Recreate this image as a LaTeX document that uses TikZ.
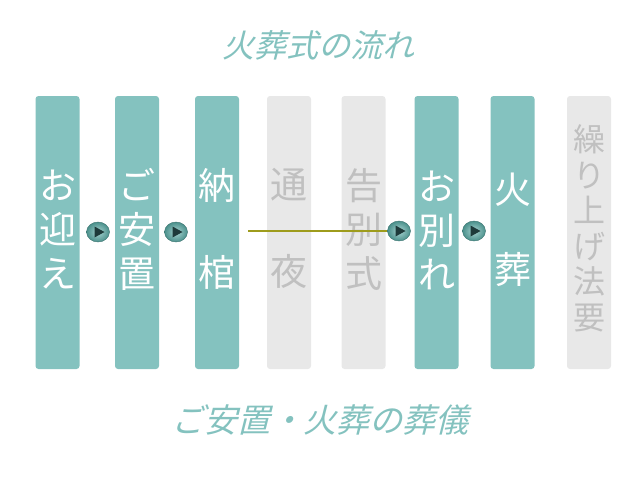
\documentclass[tikz,border=0pt]{standalone}
\usepackage{fontspec}
\setmainfont{Noto Sans CJK JP}
\newfontfamily\titlefont[FakeSlant=0.25]{Noto Sans CJK JP}
\usepackage{tikz}
\usetikzlibrary{shapes.geometric}
\usetikzlibrary{positioning}
\definecolor{barteal}{HTML}{84C2BF}
\definecolor{bargray}{HTML}{E8E8E8}
\definecolor{txtgray}{HTML}{C0C0C0}
\definecolor{btnteal}{HTML}{4A908B}
\definecolor{btndark}{HTML}{1E3A3A}
\definecolor{lineolive}{HTML}{9E9C1C}
\tikzset{
  barnode/.style = {rectangle, inner sep=0pt,
    minimum width=44pt, minimum height=273pt, rounded corners=3pt},
  bar_on/.style = {barnode, fill=barteal},% step held
  bar_off/.style = {barnode, fill=bargray},% step left out
  bartext/.style = {align=center, inner sep=0pt, yshift=3pt,
    font=\fontsize{37}{44}\selectfont},
  btn/.style = {ellipse, inner sep=0pt, minimum width=23pt, minimum height=20pt,
    inner color=barteal!70!white, outer color=btnteal, draw=btnteal!80!black, line width=0.4pt,
    path picture={\fill[btndark] ([xshift=-3.5pt,yshift=5.5pt]path picture bounding box.center)
      -- ++(10pt,-5.5pt) -- ++(-10pt,-5.5pt) -- cycle;}},% arrow button
  headline/.style = {text=barteal, font=\titlefont\fontsize{32}{32}\selectfont}
}

\begin{document}
\begin{tikzpicture}[x=1pt,y=-1pt]
\useasboundingbox (0,0) rectangle (639,480);

\node [headline] (title) at (318,45) {火葬式の流れ};

\node [bar_on]  (mukae)   at (57.5,232.5) {};
\node [bar_on]  (anchi)   at (137,232.5)  {};
\node [bar_on]  (nokan)   at (217,232.5)  {};
\node [bar_off] (tsuya)   at (289,232.5)  {};
\node [bar_off] (kokubet) at (363.5,232.5) {};
\node [bar_on]  (owakare) at (436.5,232.5) {};
\node [bar_on]  (kaso)    at (512.5,232.5) {};
\node [bar_off] (hoyo)    at (589,232.5)  {};

\node at (mukae)   [bartext, white] {お\\迎\\え};
\node at (anchi)   [bartext, white] {ご\\安\\置};
\node at (nokan)   [bartext, white, yshift=1pt] {納\\[43pt]棺};
\node at (tsuya)   [bartext, txtgray, yshift=1pt] {通\\[43pt]夜};
\node at (kokubet) [bartext, txtgray] {告\\別\\式};
\node at (owakare) [bartext, white, yshift=-1pt] {お\\別\\れ};
\node at (kaso)    [bartext, white] {火\\[36pt]葬};
\node at (hoyo)    [bartext, txtgray, font=\fontsize{32}{35.5}\selectfont, yshift=1pt]
  {繰\\り\\上\\げ\\法\\要};

\node [btn] (b1) at (98,232) {};
\node [btn] (b2) at (176,232) {};
\node [btn] (b3) at (399,231) {};
\node [btn] (b4) at (474,231) {};

\coordinate (skip) at ([xshift=9pt]nokan.east |- b3.west);
\draw [lineolive, line width=1.5pt] (skip) -- (b3.west);

\node [headline, font=\titlefont\fontsize{33}{33}\selectfont] (subtitle) at (320,420)
  {ご安置・火葬の葬儀};
\end{tikzpicture}
\end{document}
